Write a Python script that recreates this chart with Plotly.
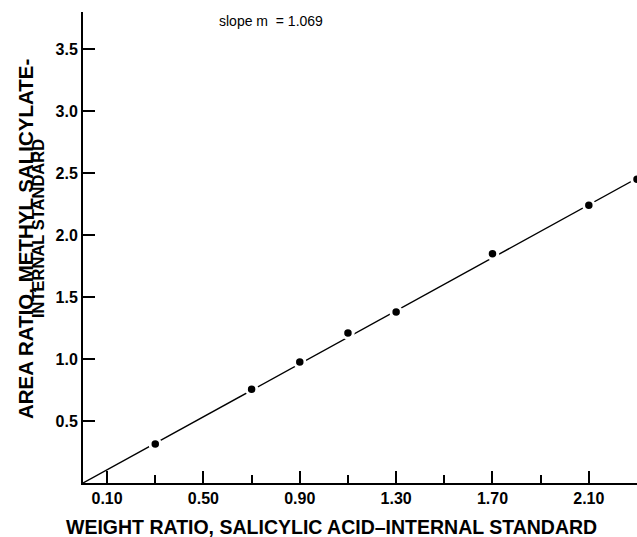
import plotly.graph_objects as go

# Data
weight_ratio = [0.30, 0.70, 0.90, 1.10, 1.30, 1.70, 2.10, 2.30]
area_ratio = [0.315, 0.757, 0.977, 1.21, 1.38, 1.85, 2.24, 2.45]
slope_m = 1.069
fit_x = [0.0, 2.30]
fit_y = [slope_m * v for v in fit_x]

x_major_ticks = [0.10, 0.50, 0.90, 1.30, 1.70, 2.10]
x_major_labels = ["0.10", "0.50", "0.90", "1.30", "1.70", "2.10"]
x_minor_ticks = [0.30, 0.70, 1.10, 1.50, 1.90, 2.30]
y_ticks = [0.5, 1.0, 1.5, 2.0, 2.5, 3.0, 3.5]
y_labels = ["0.5", "1.0", "1.5", "2.0", "2.5", "3.0", "3.5"]

FONT = "Liberation Sans"
W, H = 637, 537
ML, MR, MT, MB = 83, 0, 12, 54
PW, PH = W - ML - MR, H - MT - MB


def px_x(p):
    return (p - ML) / PW


def px_y(p):
    return (H - MB - p) / PH


fig = go.Figure()
fig.add_trace(go.Scatter(x=fit_x, y=fit_y, mode="lines",
                         line=dict(color="black", width=1.4),
                         hoverinfo="skip", showlegend=False, cliponaxis=False))
fig.add_trace(go.Scatter(x=weight_ratio, y=area_ratio, mode="markers",
                         marker=dict(color="black", size=10.5,
                                     line=dict(color="white", width=3)),
                         showlegend=False, cliponaxis=False))

fig.update_layout(
    width=W, height=H,
    margin=dict(l=ML, r=MR, t=MT, b=MB),
    plot_bgcolor="white", paper_bgcolor="white",
    font=dict(family=FONT, color="black"),
    xaxis=dict(range=[0, 2.30], showgrid=False, zeroline=False,
               showline=True, linecolor="black", linewidth=2,
               tickmode="array", tickvals=x_major_ticks, ticktext=x_major_labels,
               ticks="inside", ticklen=12, tickwidth=1.5, tickcolor="black",
               tickfont=dict(family=FONT, size=16, weight="bold", color="black"),
               minor=dict(tickmode="array", tickvals=x_minor_ticks,
                          ticks="inside", ticklen=8, tickwidth=1.5,
                          tickcolor="black", showgrid=False)),
    yaxis=dict(range=[0, 3.8], showgrid=False, zeroline=False,
               showline=True, linecolor="black", linewidth=2,
               tickmode="array", tickvals=y_ticks, ticktext=y_labels,
               ticksuffix="\u00a0\u00a0",
               ticks="inside", ticklen=12, tickwidth=1.5, tickcolor="black",
               tickfont=dict(family=FONT, size=16, weight="bold", color="black")),
    annotations=[
        dict(text="AREA RATIO, METHYL SALICYLATE-", xref="paper", yref="paper",
             x=px_x(25), y=px_y(239), xanchor="center", yanchor="middle",
             textangle=-90, showarrow=False,
             font=dict(family=FONT, size=20.5, weight="bold", color="black")),
        dict(text="INTERNAL STANDARD", xref="paper", yref="paper",
             x=px_x(38), y=px_y(229), xanchor="center", yanchor="middle",
             textangle=-90, showarrow=False,
             font=dict(family=FONT, size=16.5, weight="bold", color="black")),
        dict(text="WEIGHT RATIO, SALICYLIC ACID\u2013INTERNAL STANDARD",
             xref="paper", yref="paper",
             x=px_x(331), y=px_y(540), xanchor="center", yanchor="bottom",
             showarrow=False,
             font=dict(family=FONT, size=19.5, weight="bold", color="black")),
        dict(text="slope m  = 1.069", xref="paper", yref="paper",
             x=px_x(217), y=px_y(21), xanchor="left", yanchor="middle",
             showarrow=False,
             font=dict(family=FONT, size=14, color="black")),
    ],
)

fig.write_html("out.html",
               config={"displayModeBar": False},
               post_script="document.body.style.margin='0';"
                           "document.body.style.overflow='hidden';")
